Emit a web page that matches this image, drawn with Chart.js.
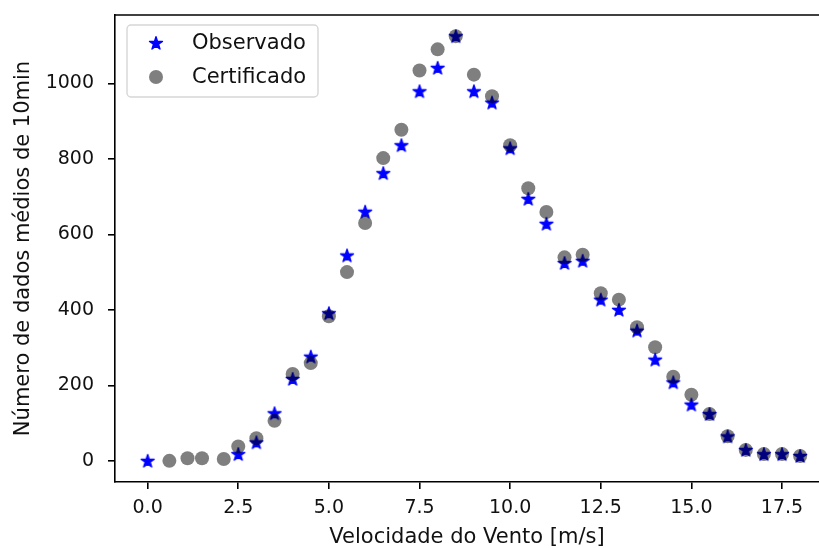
<!DOCTYPE html>
<html>
<head>
<meta charset="utf-8">
<script src="https://cdn.jsdelivr.net/npm/chart.js@4.4.1/dist/chart.umd.min.js"></script>
<style>
  html, body { margin: 0; padding: 0; background: #fff; }
</style>
</head>
<body>
<canvas id="chart" width="819" height="548"></canvas>
<script>
// wind speed bins [m/s] and counts of 10-min averages
const obsSpeed = [0, 2.5, 3, 3.5, 4, 4.5, 5, 5.5, 6, 6.5, 7, 7.5, 8, 8.5, 9, 9.5, 10,
  10.5, 11, 11.5, 12, 12.5, 13, 13.5, 14, 14.5, 15, 15.5, 16, 16.5, 17, 17.5, 18];
const obsCount = [0, 18, 49, 126, 217, 276, 391, 544, 660, 762, 836, 979, 1041, 1125, 979, 949, 828,
  694, 628, 524, 530, 427, 400, 345, 268, 208, 149, 124, 65, 29, 18, 18, 13];

const certSpeed = [0.6, 1.1, 1.5, 2.1, 2.5, 3, 3.5, 4, 4.5, 5, 5.5, 6, 6.5, 7, 7.5, 8, 8.5, 9, 9.5, 10,
  10.5, 11, 11.5, 12, 12.5, 13, 13.5, 14, 14.5, 15, 15.5, 16, 16.5, 17, 17.5, 18];
const certCount = [0, 7, 7, 5, 38, 60, 106, 230, 259, 383, 500, 630, 802, 877, 1034, 1090, 1125, 1023, 966, 836,
  722, 659, 539, 546, 444, 427, 354, 301, 223, 175, 124, 65, 29, 18, 18, 13];

const xTicks = [0, 2.5, 5, 7.5, 10, 12.5, 15, 17.5];
const yTicks = [0, 200, 400, 600, 800, 1000];
const seriesNames = ["Observado", "Certificado"];

const FONT = "'DejaVu Sans', sans-serif";

function makeStar(color) {
  const c = document.createElement("canvas");
  c.width = 20;
  c.height = 20;
  const g = c.getContext("2d");
  g.beginPath();
  for (let i = 0; i < 10; i++) {
    const r = i % 2 === 0 ? 6.8 : 6.8 * 0.382;
    const a = -Math.PI / 2 + i * Math.PI / 5;
    const px = 10 + r * Math.cos(a);
    const py = 10.5 + r * Math.sin(a);
    if (i === 0) g.moveTo(px, py); else g.lineTo(px, py);
  }
  g.closePath();
  g.fillStyle = color;
  g.fill();
  g.lineWidth = 1.4;
  g.lineJoin = "round";
  g.strokeStyle = color;
  g.stroke();
  return c;
}

const starImg = makeStar("#0000ff");
const circleColor = "rgba(0, 0, 0, 0.5)";

const toPoints = (xs, ys) => xs.map((x, i) => ({ x: x, y: ys[i] }));

// top spine + legend box (matplotlib style)
const framePlugin = {
  id: "frame",
  afterDraw(chart) {
    const { ctx, chartArea } = chart;
    ctx.save();
    ctx.strokeStyle = "#000";
    ctx.lineWidth = 1.6;
    ctx.beginPath();
    ctx.moveTo(chartArea.left, chartArea.top);
    ctx.lineTo(chartArea.right, chartArea.top);
    ctx.stroke();

    // legend
    const bx = 127, by = 25, bw = 191, bh = 72, r = 4;
    ctx.beginPath();
    ctx.moveTo(bx + r, by);
    ctx.arcTo(bx + bw, by, bx + bw, by + bh, r);
    ctx.arcTo(bx + bw, by + bh, bx, by + bh, r);
    ctx.arcTo(bx, by + bh, bx, by, r);
    ctx.arcTo(bx, by, bx + bw, by, r);
    ctx.closePath();
    ctx.fillStyle = "rgba(255,255,255,0.8)";
    ctx.fill();
    ctx.strokeStyle = "#d6d6d6";
    ctx.lineWidth = 1.4;
    ctx.stroke();

    ctx.drawImage(starImg, 156 - 10, 43 - 10);
    ctx.beginPath();
    ctx.arc(156, 77, 7, 0, Math.PI * 2);
    ctx.fillStyle = circleColor;
    ctx.fill();

    ctx.fillStyle = "#111";
    ctx.font = "21px " + FONT;
    ctx.textBaseline = "middle";
    ctx.textAlign = "left";
    ctx.fillText(seriesNames[0], 192, 44);
    ctx.fillText(seriesNames[1], 192, 78);
    ctx.restore();
  }
};

new Chart(document.getElementById("chart").getContext("2d"), {
  type: "scatter",
  data: {
    datasets: [
      {
        label: seriesNames[0],
        data: toPoints(obsSpeed, obsCount),
        pointStyle: starImg,
        pointRadius: 7,
        order: 1
      },
      {
        label: seriesNames[1],
        data: toPoints(certSpeed, certCount),
        pointStyle: "circle",
        pointRadius: 7,
        borderWidth: 0,
        backgroundColor: circleColor,
        order: 0
      }
    ]
  },
  options: {
    responsive: false,
    animation: false,
    devicePixelRatio: 1,
    layout: { autoPadding: false, padding: { top: 15, right: 0, left: 0, bottom: 0 } },
    plugins: {
      legend: { display: false },
      tooltip: { enabled: false }
    },
    scales: {
      x: {
        type: "linear",
        min: -0.9,
        max: 18.52,
        afterFit: (s) => { s.height = 66; s.paddingLeft = 0; s.paddingRight = 0; },
        afterBuildTicks: (s) => { s.ticks = xTicks.map((v) => ({ value: v })); },
        grid: { drawOnChartArea: false, drawTicks: true, tickLength: 7, color: "#000", lineWidth: 1.6 },
        border: { display: true, color: "#000", width: 1.6 },
        ticks: {
          color: "#111",
          padding: 8,
          maxRotation: 0,
          font: { family: FONT, size: 19 },
          callback: (v) => Number(v).toFixed(1)
        },
        title: {
          display: true,
          text: "Velocidade do Vento [m/s]",
          color: "#111",
          padding: { top: 0, bottom: -2 },
          font: { family: FONT, size: 21 }
        }
      },
      y: {
        type: "linear",
        min: -56,
        max: 1181,
        afterFit: (s) => { s.width = 115; s.paddingTop = 0; s.paddingBottom = 0; },
        afterBuildTicks: (s) => { s.ticks = yTicks.map((v) => ({ value: v })); },
        grid: { drawOnChartArea: false, drawTicks: true, tickLength: 7, color: "#000", lineWidth: 1.6 },
        border: { display: true, color: "#000", width: 1.6 },
        ticks: {
          color: "#111",
          padding: 14,
          font: { family: FONT, size: 19 },
          callback: (v) => String(v)
        },
        title: {
          display: true,
          text: "Número de dados médios de 10min",
          color: "#111",
          padding: { top: 11, bottom: 0 },
          font: { family: FONT, size: 21 }
        }
      }
    }
  },
  plugins: [framePlugin]
});
</script>
</body>
</html>
